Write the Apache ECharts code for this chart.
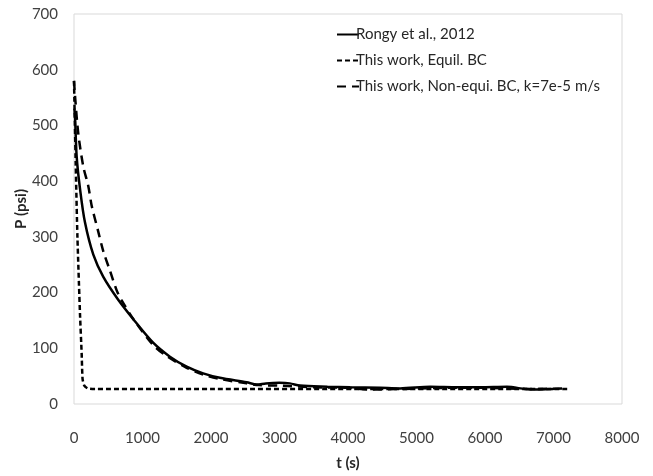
<!DOCTYPE html>
<html>
<head>
<meta charset="utf-8">
<script src="https://cdn.jsdelivr.net/npm/echarts@6/dist/echarts.min.js"></script>
<style>
  html, body { margin: 0; padding: 0; background: #fff; }
  #chart { width: 653px; height: 476px; }
</style>
</head>
<body>
<div id="chart"></div>
<script>
// Pressure decay P(t): measured data vs. two model variants
const seriesNames = [
  'Rongy et al., 2012',
  'This work, Equil. BC',
  'This work, Non-equi. BC, k=7e-5 m/s'
];

const rongyT = [5, 15, 39, 88, 160, 282, 428, 640, 880, 1155, 1400, 1645, 1885, 2130, 2520, 2670, 2800, 3000, 3150, 3300, 3700, 4030, 4470, 4760, 5200, 5600, 5930, 6320, 6660, 7000];
const rongyP = [530, 515, 444, 386, 326, 268, 228, 188, 150, 110, 85, 67, 55, 47, 39, 35, 37, 38, 37, 33, 31, 30, 29, 28, 31, 30, 30, 31, 26, 27];

const equilT = [0, 25, 50, 88, 112, 125, 150, 200, 300, 7200];
const equilP = [580, 430, 300, 160, 90, 45, 33, 28, 27, 27];

const nonEquiT = [0, 20, 63, 136, 209, 258, 355, 428, 526, 623, 696, 880, 1155, 1330, 1645, 1885, 2130, 2520, 2700, 3000, 3500, 4000, 4320, 4800, 5500, 6000, 6660, 7200];
const nonEquiP = [580, 545, 485, 426, 391, 356, 309, 274, 239, 204, 186, 150, 106, 88, 65, 53, 45, 37, 34, 33, 30, 29, 26, 27, 29, 29, 27, 28];

const xTicks = { min: 0, max: 8000, interval: 1000 };
const yTicks = { min: 0, max: 700, interval: 100 };

const pairs = (t, p) => t.map((v, i) => [v, p[i]]);

const font = 'Lato, "Open Sans", sans-serif';
const chart = echarts.init(document.getElementById('chart'), null, { renderer: 'canvas' });

chart.setOption({
  animation: false,
  backgroundColor: '#ffffff',
  textStyle: { fontFamily: font },
  grid: {
    left: 74, right: 31, top: 14, bottom: 63,
    show: true, borderColor: '#d9d9d9', borderWidth: 1, containLabel: false
  },
  legend: {
    orient: 'vertical',
    left: 331,
    top: 22,
    itemWidth: 22,
    itemHeight: 14,
    itemGap: 11,
    itemStyle: { opacity: 0 },
    textStyle: { fontFamily: font, fontSize: 15, color: '#262626', lineHeight: 14, padding: [0, 0, 0, -8] },
    data: seriesNames
  },
  xAxis: {
    type: 'value',
    min: xTicks.min, max: xTicks.max, interval: xTicks.interval,
    name: 't (s)',
    nameLocation: 'middle',
    nameGap: 52,
    nameMoveOverlap: false,
    nameTextStyle: { fontFamily: font, fontSize: 15, fontWeight: 'bold', color: '#262626' },
    axisLine: { show: false },
    axisTick: { show: false },
    splitLine: { show: false },
    axisLabel: { fontFamily: font, fontSize: 15, color: '#404040', margin: 27, formatter: v => String(v) }
  },
  yAxis: {
    type: 'value',
    min: yTicks.min, max: yTicks.max, interval: yTicks.interval,
    name: 'P (psi)',
    nameLocation: 'middle',
    nameGap: 45,
    nameMoveOverlap: false,
    nameRotate: 90,
    nameTextStyle: { fontFamily: font, fontSize: 15, fontWeight: 'bold', color: '#262626' },
    axisLine: { show: false },
    axisTick: { show: false },
    splitLine: { show: false },
    axisLabel: { fontFamily: font, fontSize: 15, color: '#404040', margin: 16, formatter: v => String(v) }
  },
  series: [
    {
      name: seriesNames[0],
      type: 'line',
      data: pairs(rongyT, rongyP),
      showSymbol: false,
      symbol: 'none',
      smooth: 0.3,
      z: 3,
      lineStyle: { color: '#000', width: 2.5, type: 'solid' }
    },
    {
      name: seriesNames[1],
      type: 'line',
      data: pairs(equilT, equilP),
      showSymbol: false,
      symbol: 'none',
      smooth: 0.2,
      z: 2,
      lineStyle: { color: '#000', width: 2.5, type: [5, 3] }
    },
    {
      name: seriesNames[2],
      type: 'line',
      data: pairs(nonEquiT, nonEquiP),
      showSymbol: false,
      symbol: 'none',
      smooth: 0.3,
      z: 2,
      lineStyle: { color: '#000', width: 2.5, type: [9, 6] }
    }
  ]
});
</script>
</body>
</html>
